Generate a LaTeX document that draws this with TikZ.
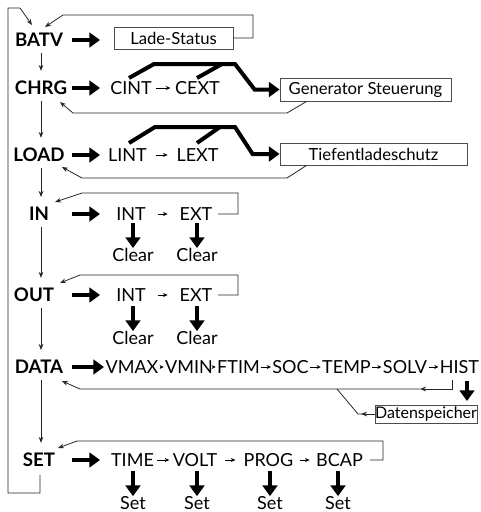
\documentclass[tikz,border=0pt]{standalone}
\usepackage{fontspec}
\setmainfont{Lato}
\usetikzlibrary{arrows.meta,calc}
\begin{document}
\begin{tikzpicture}[x=0.75pt,y=-0.75pt,
  lbl/.style={font=\fontsize{14}{16}\selectfont\bfseries, inner sep=0pt},
  itm/.style={font=\fontsize{13.5}{15}\selectfont, inner sep=0pt},
  bx/.style={draw=black!70, line width=0.6pt, font=\fontsize{12.5}{14}\selectfont, inner sep=0pt},
  cn/.style={line width=0.6pt, draw=black!85},
  tip/.style={-{Stealth[length=4.5pt,width=3.5pt]}},
  stip/.style={line width=0.6pt, -{Stealth[length=3.5pt,width=3pt]}},
  dtip/.style={line width=0.6pt, -{Stealth[length=3pt,width=3pt]}, shorten <=1pt, shorten >=1pt},
  fat/.style={line width=3.6pt, -{Triangle[length=8pt,width=11pt]}},
  poly/.style={line width=3pt},
  vdn/.style={cn, tip, shorten <=4.5pt, shorten >=7.5pt}
]
\useasboundingbox (0,0) rectangle (480,512);
\coordinate (vx) at (41,0);
\coordinate (ax) at (72,0);
\coordinate (bx) at (100,0);

% main labels
\node[lbl] (batv) at (39,40) {BATV};
\node[lbl] (chrg) at (41,88) {CHRG};
\node[lbl] (load) at (39,155) {LOAD};
\node[lbl] (nin) at (39,214) {IN};
\node[lbl] (nout) at (34,295) {OUT};
\node[lbl] (data) at (39,367) {DATA};
\node[lbl] (nset) at (39,460) {SET};

% boxes
\node[bx, minimum width=89.25pt, minimum height=16.5pt] (lade) at (173.5,38) {Lade-Status};
\node[bx, minimum width=128.25pt, minimum height=17.25pt] (gen) at (365.5,89.5) {Generator Steuerung};
\node[bx, minimum width=140.25pt, minimum height=16.5pt] (tief) at (373.5,154) {Tiefentladeschutz};
\node[bx, font=\fontsize{12}{14}\selectfont, minimum width=76.5pt, minimum height=13.5pt] (dsp) at (426,414) {Datenspeicher};

% items
\node[itm] (cint) at (131,88) {CINT};
\node[itm] (cext) at (197.5,88) {CEXT};
\node[itm] (lint) at (127.5,155) {LINT};
\node[itm] (lext) at (197.5,155) {LEXT};
\node[itm] (iint) at (131,214) {INT};
\node[itm] (iext) at (196,214) {EXT};
\node[itm] (oint) at (131,295) {INT};
\node[itm] (oext) at (196,295) {EXT};
\node[itm] (vmax) at (132,367) {VMAX};
\node[itm] (vmin) at (189,367) {VMIN};
\node[itm] (ftim) at (238.5,367) {FTIM};
\node[itm] (soc) at (290.5,367) {SOC};
\node[itm] (temp) at (346.5,367) {TEMP};
\node[itm] (solv) at (405,367) {SOLV};
\node[itm] (hist) at (459.5,367) {HIST};
\node[itm] (time) at (132.5,460) {TIME};
\node[itm] (volt) at (195,460) {VOLT};
\node[itm] (prog) at (268.5,460) {PROG};
\node[itm] (bcap) at (339.5,460) {BCAP};

\node[itm] (c1) at (133,255) {Clear};
\node[itm] (c2) at (197,255) {Clear};
\node[itm] (c3) at (133,338) {Clear};
\node[itm] (c4) at (197,338) {Clear};
\node[itm] (s1) at (133,503) {Set};
\node[itm] (s2) at (197,503) {Set};
\node[itm] (s3) at (270,503) {Set};
\node[itm] (s4) at (338,503) {Set};

% main vertical chain
\draw[vdn] (vx |- batv.south) -- (vx |- chrg.north);
\draw[vdn] (vx |- chrg.south) -- (vx |- load.north);
\draw[vdn] (vx |- load.south) -- (vx |- nin.north);
\draw[vdn] (vx |- nin.south) -- (vx |- nout.north);
\draw[vdn] (vx |- nout.south) -- (vx |- data.north);
\draw[vdn] (vx |- data.south) -- (vx |- nset.north);

% outer frame
\draw[cn,tip] (40,475) -- (40,493) -- (8,493) -- (8,8) -- (20,8) -- (32,25);

% fat arrows from labels
\draw[fat] (ax |- batv) -- (bx |- batv);
\draw[fat] (ax |- chrg) -- (bx |- chrg);
\draw[fat] (ax |- load) -- (bx |- load);
\draw[fat] (ax |- nin) -- (bx |- nin);
\draw[fat] (ax |- nout) -- (bx |- nout);
\draw[fat] (ax |- data) -- ($(bx |- data)+(4,0)$);
\draw[fat] (ax |- nset) -- (bx |- nset);

% small item arrows (short, centred between items)
\draw[stip] ($(cint.east)!0.5!(cext.west)+(-7,0)$) -- ++(14,0);
\draw[stip] ($(lint.east)!0.5!(lext.west)+(-6,0)$) -- ++(12,0);
\draw[stip] ($(iint.east)!0.5!(iext.west)+(-5,0)$) -- ++(10,0);
\draw[stip] ($(oint.east)!0.5!(oext.west)+(-5,0)$) -- ++(10,0);
\draw[dtip] (vmax) -- (vmin);
\draw[dtip] (vmin) -- (ftim);
\draw[dtip] (ftim) -- (soc);
\draw[dtip] (soc) -- (temp);
\draw[dtip] (temp) -- (solv);
\draw[dtip] (solv) -- (hist);
\draw[stip] ($(time.east)!0.5!(volt.west)+(-6,0)$) -- ++(12,0);
\draw[stip] ($(volt.east)!0.5!(prog.west)+(-5,0)$) -- ++(10,0);
\draw[stip] ($(prog.east)!0.5!(bcap.west)+(-5,0)$) -- ++(10,0);

% thick polylines
\draw[poly, -{Triangle[length=8pt,width=11pt]}] (129,78) -- (154,64) -- (235,64) -- ($(gen.west)+(-25,0)$) -- (gen.west);
\draw[poly] (197,78) -- (222,64);
\draw[poly, -{Triangle[length=8pt,width=11pt]}] (129,143) -- (155,127) -- (235,127) -- ($(tief.west)+(-27,0)$) -- (tief.west);
\draw[poly] (197,143) -- (220,127);

% return lines
\draw[cn,tip] (lade.east) -- (253,38) -- (253,15) -- (63,15) -- (45,27);
\draw[cn,tip] ($(gen.south west)+(27,0)$) -- (287,113) -- (73,113) -- (60,102);
\draw[cn,tip] ($(tief.south west)+(27,0)$) -- (287,178) -- (82,178) -- (62,167);
\draw[cn,tip] (218,214) -- (238,214) -- (238,193) -- (82,193) -- (55,202);
\draw[cn,tip] (218,295) -- (238,295) -- (238,275) -- (80,275) -- (60,283);
\draw[cn,tip] (452,380) -- (452,389) -- (420,389);
\draw[cn,tip] (420,389) -- (80,389) -- (62,381);
\draw[cn,tip] (dsp.west) -- (361,414);
\draw[cn] (362,414) -- (358,414) -- (337,389);
\draw[cn,tip] (370,460) -- (383,460) -- (383,441) -- (77,441) -- (58,448);

% down fat arrows
\draw[fat] (133,223) -- (c1.north);
\draw[fat] (197,223) -- (c2.north);
\draw[fat] (133,306) -- (c3.north);
\draw[fat] (197,306) -- (c4.north);
\draw[fat] (467,381) -- (467,401);
\draw[fat] (133,471) -- (s1.north);
\draw[fat] (197,471) -- (s2.north);
\draw[fat] (270,471) -- (s3.north);
\draw[fat] (338,471) -- (s4.north);
\end{tikzpicture}
\end{document}
